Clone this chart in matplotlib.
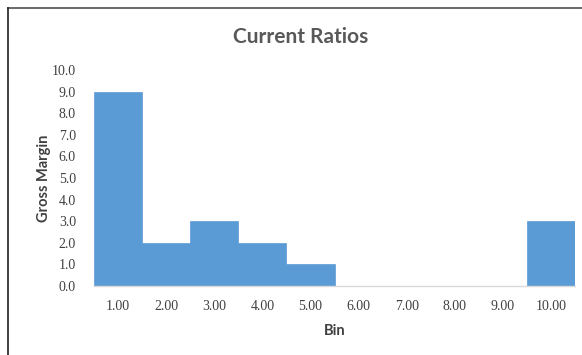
import numpy as np
import matplotlib.pyplot as plt
from matplotlib.lines import Line2D

bins = [1, 2, 3, 4, 5, 6, 7, 8, 9, 10]
bin_labels = ["1.00", "2.00", "3.00", "4.00", "5.00", "6.00", "7.00", "8.00", "9.00", "10.00"]
counts = [9, 2, 3, 2, 1, 0, 0, 0, 0, 3]
y_ticks = [0, 1, 2, 3, 4, 5, 6, 7, 8, 9, 10]

fig = plt.figure(figsize=(5.82, 3.55), dpi=100)
ax = fig.add_axes([0.1615, 0.1944, 0.8265, 0.6085])

ax.bar(bins, counts, width=1.0, color="#5B9BD5", edgecolor="#5B9BD5", linewidth=0.5)

ax.set_xlim(0.5, 10.5)
ax.set_ylim(0, 10)
ax.set_xticks(bins)
ax.set_xticklabels(bin_labels, fontfamily="Liberation Serif", fontsize=10, color="#404040")
ax.set_yticks(y_ticks)
ax.set_yticklabels(["%.1f" % v for v in y_ticks], fontfamily="Liberation Serif", fontsize=10, color="#404040")
ax.tick_params(axis="both", length=0)
ax.tick_params(axis="x", pad=10)
ax.tick_params(axis="y", pad=13)

for side in ["top", "right", "left"]:
    ax.spines[side].set_visible(False)
ax.spines["bottom"].set_color("#D9D9D9")
ax.spines["bottom"].set_linewidth(1.0)

ax.set_xlabel("Bin", fontfamily="Lato", fontweight="bold", fontsize=10.5, color="#404040", labelpad=8)
# y label placed in figure coords so it sits close to the tick labels
fig.text(44 / 582, 1 - 178 / 355, "Gross Margin", rotation=90, ha="center", va="center",
         fontfamily="Lato", fontweight="bold", fontsize=10.5, color="#404040")
fig.text(0.516, 0.895, "Current Ratios", ha="center", va="center",
         fontfamily="Lato", fontweight="bold", fontsize=15, color="#595959")

# chart frame, only top and left edges fall inside the image
fig.add_artist(Line2D([8 / 582, 1], [1 - 8 / 355, 1 - 8 / 355], transform=fig.transFigure, color="#505050", linewidth=1.2))
fig.add_artist(Line2D([8 / 582, 8 / 582], [0, 1 - 8 / 355], transform=fig.transFigure, color="#202020", linewidth=1.2))

fig.savefig("out.png", dpi=100)
